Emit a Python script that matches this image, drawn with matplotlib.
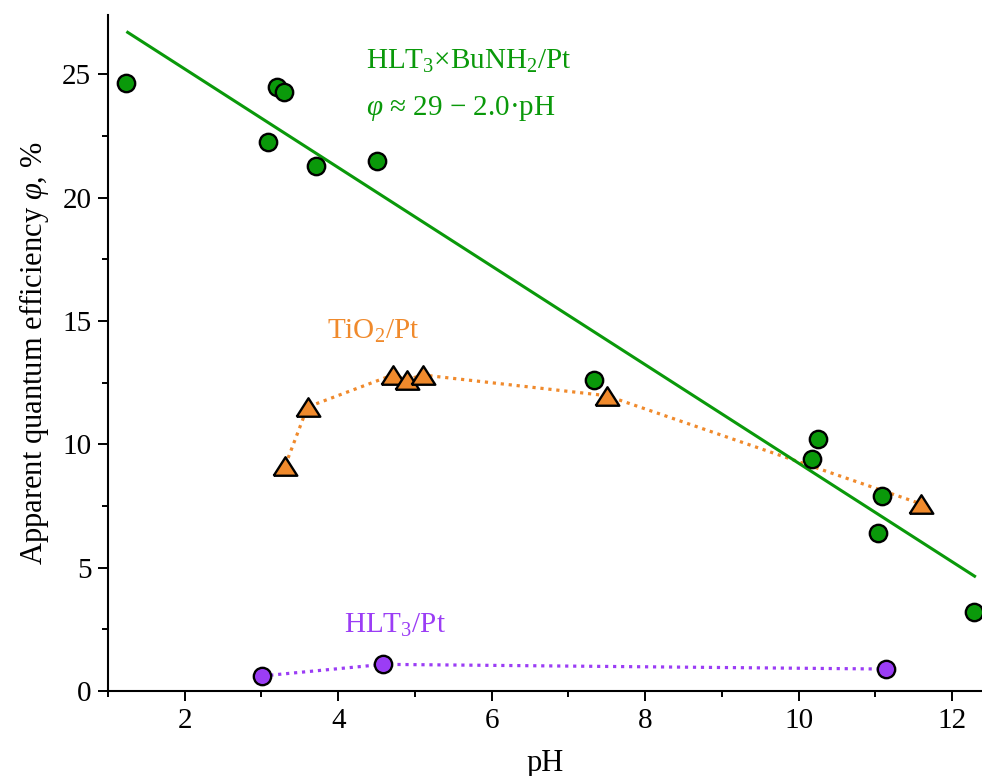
import numpy as np
import matplotlib
matplotlib.use('Agg')
import matplotlib.pyplot as plt

plt.rcParams['font.family'] = ['Liberation Serif', 'DejaVu Serif']
plt.rcParams['mathtext.fontset'] = 'custom'
plt.rcParams['mathtext.rm'] = 'Liberation Serif'
plt.rcParams['mathtext.it'] = 'Liberation Serif:italic'

GREEN = '#0a990a'
ORANGE = '#f08a2c'
PURPLE = '#9b3df5'

# HLT3xBuNH2/Pt
green_ph = [1.24, 3.09, 3.20, 3.29, 3.71, 4.50, 7.34, 10.25, 10.18, 11.09, 11.04, 12.29]
green_qe = [24.65, 22.27, 24.49, 24.27, 21.27, 21.50, 12.59, 10.21, 9.40, 7.90, 6.40, 3.19]
# linear fit ends
fit_ph = [1.24, 12.31]
fit_qe = [26.73, 4.62]

# TiO2/Pt
tio2_ph = [3.31, 3.60, 4.71, 4.90, 5.10, 7.50, 11.59]
tio2_qe = [9.14, 11.51, 12.81, 12.62, 12.81, 11.97, 7.59]

# HLT3/Pt
hlt_ph = [3.01, 4.59, 11.14]
hlt_qe = [0.61, 1.08, 0.89]

fig = plt.figure(figsize=(9.82, 7.76), dpi=100)
ax = fig.add_axes([108 / 982, 1 - 691 / 776, 1 - 108 / 982, (691 - 15) / 776])

dots = (0, (1, 1.5))
ax.plot(tio2_ph, tio2_qe, color=ORANGE, lw=2.3, linestyle=dots, zorder=1)
ax.plot(hlt_ph, hlt_qe, color=PURPLE, lw=2.3, linestyle=dots, zorder=1)
ax.plot(fit_ph, fit_qe, color=GREEN, lw=2.2, zorder=2, solid_capstyle='butt')

for x, y in zip(green_ph, green_qe):
    ax.plot(x, y, 'o', ms=12.5, mfc=GREEN, mec='black', mew=1.7, zorder=3, clip_on=False)
tri = [(-1.15, -0.9), (1.15, -0.9), (0, 0.9), (-1.15, -0.9)]
for x, y in zip(tio2_ph, tio2_qe):
    ax.plot(x, y, marker=tri, ms=17, mfc=ORANGE, mec='black', mew=1.7, zorder=4)
for x, y in zip(hlt_ph, hlt_qe):
    ax.plot(x, y, 'o', ms=12.5, mfc=PURPLE, mec='black', mew=1.7, zorder=3)

ax.set_xlim(1.0, 12.39)
ax.set_ylim(0, 27.4)
ax.set_xticks([2, 4, 6, 8, 10, 12])
ax.set_xticks([1, 3, 5, 7, 9, 11], minor=True)
ax.set_yticks([0, 5, 10, 15, 20, 25])
ax.set_yticks([2.5, 7.5, 12.5, 17.5, 22.5], minor=True)

for s in ['top', 'right']:
    ax.spines[s].set_visible(False)
for s in ['left', 'bottom']:
    ax.spines[s].set_linewidth(1.5)
ax.tick_params(which='major', direction='out', length=7, width=1.4, labelsize=21, pad=5)
ax.tick_params(which='minor', direction='out', length=4, width=1.4)

ax.set_xlabel('pH', fontsize=22, labelpad=11)
ax.set_ylabel(r'Apparent quantum efficiency $\it{\varphi}$, %', fontsize=22, labelpad=8)

ax.text(4.36, 25.2, r'HLT$_3$×BuNH$_2$/Pt', color=GREEN, fontsize=21)
ax.text(4.36, 23.35, r'$\it{\varphi}$ ≈ 29 − 2.0·pH', color=GREEN, fontsize=21)
ax.text(3.86, 14.28, r'TiO$_2$/Pt', color=ORANGE, fontsize=21)
ax.text(4.07, 2.35, r'HLT$_3$/Pt', color=PURPLE, fontsize=21)

fig.savefig('out.png', dpi=100)
